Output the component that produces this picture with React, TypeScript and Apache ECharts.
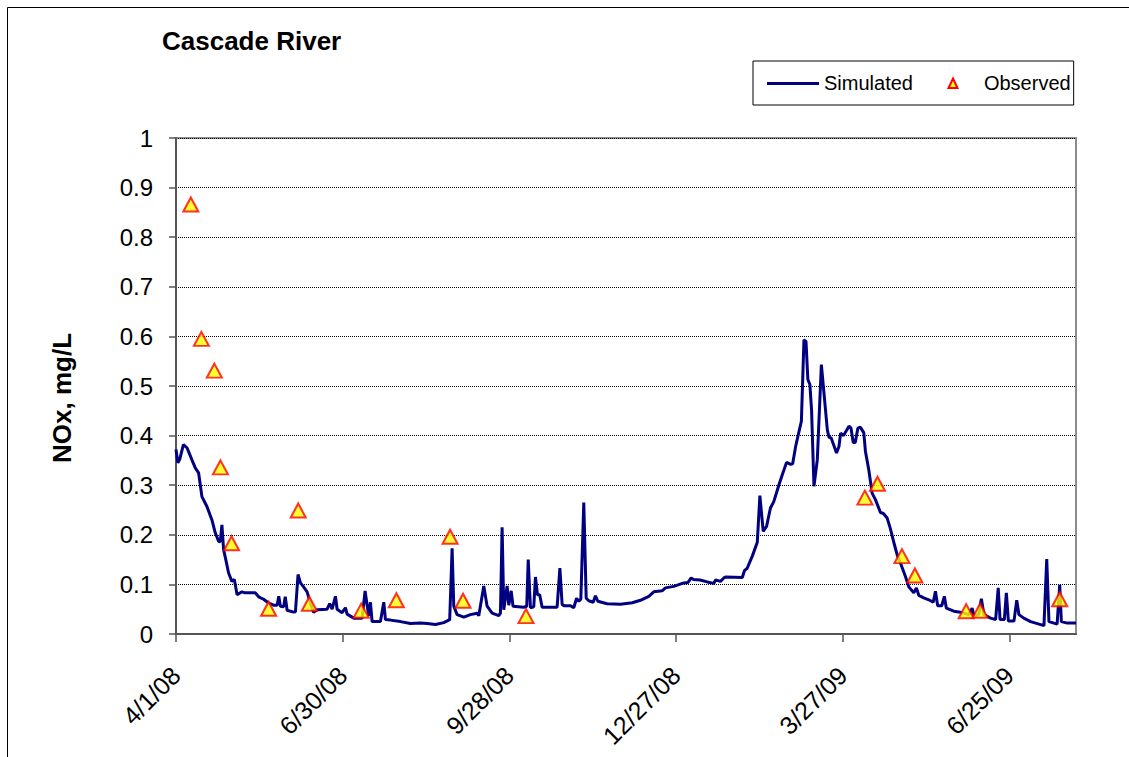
import React, { useEffect, useRef } from "react";
import * as echarts from "echarts";

// Days are counted from the x-axis start date, 4/1/08
const START_DATE = Date.UTC(2008, 3, 1);
const X_MAX_DAY = 486;
const X_TICK_DAYS = [0, 90, 180, 270, 360, 450];

const simDay = [
  0, 1, 2, 4, 6, 8.6, 10.4, 12.2, 14, 16.7, 19.4, 21.2, 23, 23.9, 24.8, 25.7, 26.6, 28.4, 30.2, 31.5,
  33, 35.6, 37.4, 42.8, 44.6, 47.3, 50, 52.7, 54.6, 55.5, 56.4, 58.1, 59, 60, 63.5, 64.5, 65.9, 67.2,
  68.9, 70.8, 72.6, 74.3, 76.2, 81.6, 83, 84.3, 86.1, 87, 89.7, 91.5, 92.4, 96, 100.5, 102.1, 103.3,
  104.1, 105, 105.9, 110.4, 112.2, 113.1, 115.8, 121.2, 126.6, 132, 135.6, 140.1, 144.6, 147.8, 149.1,
  150, 151.8, 155.4, 159, 162.6, 163.5, 166.2, 168, 170.7, 174.3, 175.2, 176.1, 177, 178.8, 179.7, 181,
  182, 187.8, 189.4, 190.2, 191.4, 193.2, 194.1, 195.2, 196.4, 197.7, 205.8, 207.3, 208.5, 209.5, 213,
  214.8, 216.3, 217.5, 218.6, 220.2, 221.5, 222.9, 225.3, 226.5, 227.8, 232.8, 240, 246.4, 250.8,
  255.3, 258, 262.5, 264.3, 268.8, 274.2, 276.5, 278.2, 279.5, 283, 286.9, 290.4, 291.4, 294, 295.8,
  297, 305.8, 307, 308.5, 311.2, 313.9, 315.3, 317.1, 318.9, 321, 322.8, 325.6, 327.4, 329.7, 331.9,
  333, 334.6, 335.8, 337.7, 339.1, 340.2, 341.2, 342.3, 343.2, 344.5, 346.3, 348.5, 349.9, 351.7,
  352.6, 353.8, 356.7, 358, 358.9, 360.5, 362, 363.4, 364.5, 365.7, 366.8, 368.2, 369.5, 371.4, 372.3,
  374.1, 375.9, 377.7, 380.4, 382, 384, 385.8, 387.6, 389.4, 391.5, 393.9, 395.7, 398.4, 399.8, 401.1,
  403.8, 406.5, 408.9, 410.1, 411.3, 413.5, 414.9, 416, 420, 423.6, 428.1, 429.9, 431, 433.5, 434.9,
  436.3, 439.9, 442.6, 444, 445, 447.3, 448.4, 449.5, 452.5, 454, 455.2, 457.8, 461.5, 465.1, 468.7,
  470.2, 471.4, 474.1, 475.8, 477.2, 478.1, 481.3, 486,
];

const simNOx = [
  0.372, 0.345, 0.352, 0.382, 0.375, 0.351, 0.335, 0.325, 0.277, 0.257, 0.23, 0.204, 0.187, 0.186, 0.22,
  0.17, 0.155, 0.123, 0.106, 0.11, 0.079, 0.085, 0.083, 0.083, 0.075, 0.07, 0.0625, 0.058, 0.058, 0.076,
  0.056, 0.055, 0.075, 0.048, 0.044, 0.045, 0.12, 0.103, 0.095, 0.085, 0.062, 0.044, 0.049, 0.05, 0.0615,
  0.05, 0.076, 0.05, 0.043, 0.053, 0.04, 0.032, 0.032, 0.087, 0.056, 0.036, 0.064, 0.025, 0.025, 0.064,
  0.029, 0.028, 0.025, 0.021, 0.022, 0.021, 0.019, 0.023, 0.029, 0.173, 0.056, 0.039, 0.034, 0.039,
  0.042, 0.037, 0.097, 0.056, 0.042, 0.037, 0.042, 0.215, 0.049, 0.097, 0.058, 0.087, 0.056, 0.054,
  0.056, 0.15, 0.053, 0.055, 0.115, 0.079, 0.079, 0.054, 0.054, 0.133, 0.06, 0.057, 0.057, 0.053, 0.072,
  0.066, 0.07, 0.265, 0.072, 0.067, 0.064, 0.077, 0.066, 0.061, 0.06, 0.063, 0.068, 0.076, 0.085, 0.087,
  0.093, 0.096, 0.103, 0.104, 0.113, 0.11, 0.109, 0.105, 0.102, 0.109, 0.106, 0.113, 0.115, 0.114,
  0.128, 0.133, 0.157, 0.185, 0.279, 0.207, 0.217, 0.254, 0.267, 0.301, 0.321, 0.346, 0.342, 0.343,
  0.378, 0.398, 0.429, 0.593, 0.59, 0.513, 0.503, 0.452, 0.298, 0.351, 0.543, 0.486, 0.412, 0.397,
  0.395, 0.365, 0.378, 0.405, 0.4, 0.41, 0.419, 0.415, 0.386, 0.386, 0.415, 0.417, 0.406, 0.368, 0.331,
  0.284, 0.271, 0.245, 0.243, 0.234, 0.212, 0.185, 0.16, 0.14, 0.116, 0.095, 0.083, 0.093, 0.078, 0.073,
  0.069, 0.064, 0.086, 0.057, 0.057, 0.076, 0.052, 0.046, 0.044, 0.039, 0.052, 0.036, 0.04, 0.071,
  0.039, 0.032, 0.029, 0.093, 0.029, 0.029, 0.083, 0.026, 0.026, 0.068, 0.039, 0.032, 0.025, 0.021,
  0.017, 0.151, 0.025, 0.022, 0.02, 0.099, 0.025, 0.022, 0.022,
];

const obsDay = [8, 13.7, 20.7, 24, 30, 50, 66, 72, 100, 119, 148, 155, 189, 372, 378.8, 392, 399, 426.7, 434.2, 477.2];
const obsNOx = [0.866, 0.595, 0.531, 0.336, 0.183, 0.051, 0.249, 0.061, 0.047, 0.068, 0.196, 0.067, 0.036, 0.275, 0.303, 0.157, 0.118, 0.046, 0.047, 0.07];

const Y_TICKS = { min: 0, max: 1, interval: 0.1 };

const FONT = "'Liberation Sans', Arial, Helvetica, sans-serif";
const SIM_COLOR = "#000080";

function dayLabel(d: number): string {
  const dt = new Date(START_DATE + Math.round(d) * 86400000);
  return `${dt.getUTCMonth() + 1}/${dt.getUTCDate()}/${String(dt.getUTCFullYear()).slice(2)}`;
}

export default function App() {
  const ref = useRef<HTMLDivElement>(null);

  useEffect(() => {
    if (!ref.current) return;
    const chart = echarts.init(ref.current, undefined, { renderer: "svg" });
    const simData = simDay.map((d, i) => [d, simNOx[i]]);
    const obsData = obsDay.map((d, i) => [d, obsNOx[i]]);

    chart.setOption({
      animation: false,
      backgroundColor: "#fff",
      textStyle: { fontFamily: FONT },
      title: {
        text: "Cascade River",
        left: 162,
        top: 28,
        padding: 0,
        textStyle: { fontFamily: FONT, fontSize: 26, fontWeight: "bold", color: "#000" },
      },
      legend: {
        left: 753,
        top: 61,
        padding: [12, 3, 12, 14],
        itemGap: 14,
        itemWidth: 52,
        itemHeight: 11,
        borderColor: "#000",
        borderWidth: 1,
        textStyle: { fontFamily: FONT, fontSize: 20, color: "#000" },
        data: [
          { name: "Simulated", icon: "none" },
          { name: "Observed", icon: "none" },
        ],
      },
      grid: {
        left: 176,
        top: 138,
        width: 900,
        height: 496,
        show: true,
        borderColor: "#8c8c8c",
        borderWidth: 2,
        backgroundColor: "transparent",
      },
      xAxis: {
        type: "value",
        min: 0,
        max: X_MAX_DAY,
        interval: 90,
        axisLine: { show: true, lineStyle: { color: "#555", width: 2 } },
        axisTick: { show: true, customValues: X_TICK_DAYS, length: 8, lineStyle: { color: "#555", width: 1.5 } },
        axisLabel: {
          customValues: X_TICK_DAYS,
          rotate: 45,
          margin: 37,
          align: "right",
          verticalAlign: "middle",
          fontFamily: FONT,
          fontSize: 25,
          color: "#000",
          formatter: (v: number) => dayLabel(v),
        },
        splitLine: { show: false },
      },
      yAxis: {
        type: "value",
        min: Y_TICKS.min,
        max: Y_TICKS.max,
        interval: Y_TICKS.interval,
        axisLine: { show: true, lineStyle: { color: "#555", width: 2 } },
        axisTick: { show: true, length: 7, lineStyle: { color: "#555", width: 1.5 } },
        axisLabel: {
          margin: 23,
          fontFamily: FONT,
          fontSize: 24,
          color: "#000",
          formatter: (v: number) => String(Math.round(v * 10) / 10),
        },
        splitLine: { show: true, lineStyle: { type: "dotted", color: "#000", width: 1 } },
      },
      graphic: [
        {
          type: "line",
          shape: { x1: 7.5, y1: 7.5, x2: 1129, y2: 7.5 },
          style: { stroke: "#000", lineWidth: 1 },
          silent: true,
        },
        {
          type: "line",
          shape: { x1: 7.5, y1: 7.5, x2: 7.5, y2: 757 },
          style: { stroke: "#000", lineWidth: 1 },
          silent: true,
        },
        // legend keys
        {
          type: "line",
          shape: { x1: 767, y1: 83.5, x2: 819, y2: 83.5 },
          style: { stroke: SIM_COLOR, lineWidth: 3 },
          silent: true,
          z: 200,
        },
        {
          type: "polygon",
          shape: { points: [[953, 78.5], [957.5, 88], [948.5, 88]] },
          style: { fill: "#ffff00", stroke: "#ff0000", lineWidth: 2 },
          silent: true,
          z: 200,
        },
        {
          type: "text",
          x: 62,
          y: 398,
          rotation: Math.PI / 2,
          style: {
            text: "NOx, mg/L",
            fontFamily: FONT,
            fontSize: 26,
            fontWeight: "bold",
            fill: "#000",
            align: "center",
            verticalAlign: "middle",
          },
        },
      ],
      series: [
        {
          name: "Simulated",
          type: "line",
          data: simData,
          showSymbol: false,
          symbol: "none",
          lineStyle: { color: SIM_COLOR, width: 3 },
          itemStyle: { color: SIM_COLOR },
          z: 2,
        },
        {
          name: "Observed",
          type: "scatter",
          data: obsData,
          symbol: "triangle",
          symbolSize: [15, 14],
          itemStyle: { color: "#ffff00", borderColor: "#ff0000", borderWidth: 2 },
          z: 3,
        },
      ],
    });

    return () => chart.dispose();
  }, []);

  return (
    <div
      ref={ref}
      style={{ position: "absolute", left: 0, top: 0, width: 1129, height: 757 }}
    />
  );
}
